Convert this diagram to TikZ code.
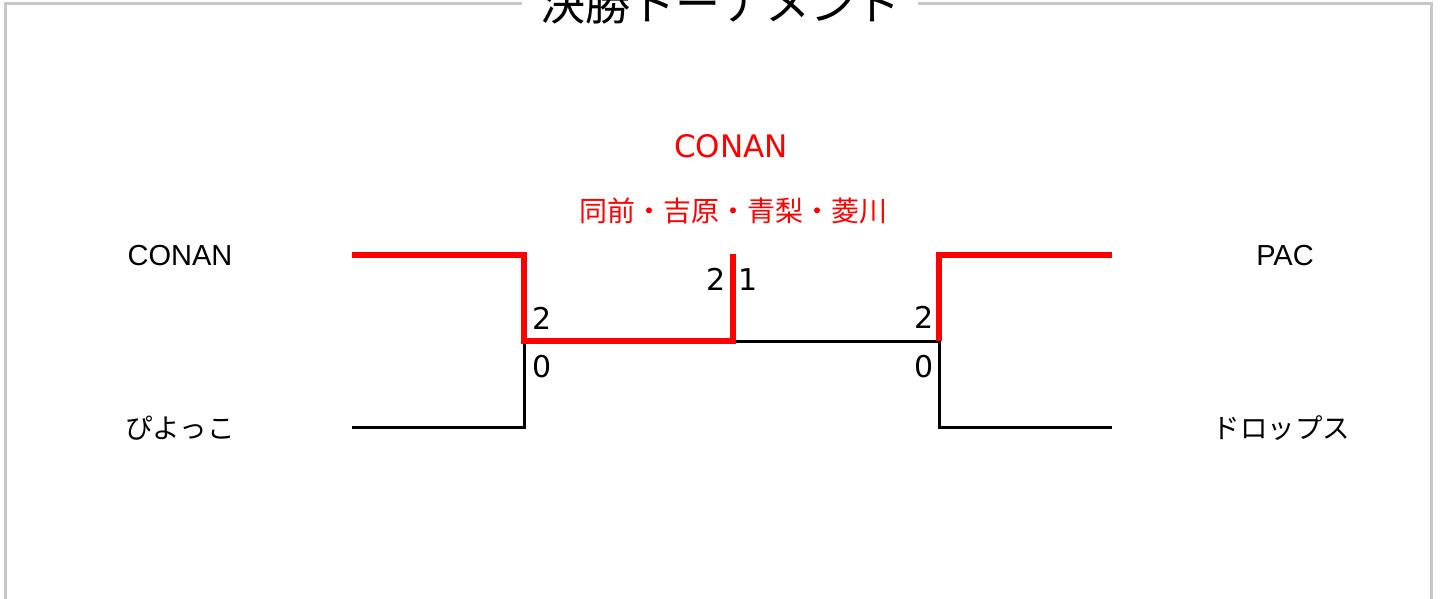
\documentclass[tikz,border=0pt]{standalone}
\usepackage{fontspec}
\setmainfont{DejaVu Sans}
\newfontfamily\jpfont{Noto Sans CJK JP}
\newfontfamily\arialfont{Liberation Sans}
\definecolor{framegray}{RGB}{200,200,200}
\definecolor{winred}{RGB}{255,0,0}
\begin{document}
\begin{tikzpicture}[x=1pt,y=-1pt,
  frameline/.style={draw=framegray, line width=3pt, line join=miter},
  winline/.style={draw=winred, line width=5.5pt, line join=miter},
  loseline/.style={draw=black, line width=3pt, line join=miter},
  team/.style={inner sep=0pt, anchor=base, font=\arialfont\fontsize{29}{33}\selectfont},
  teamjp/.style={inner sep=0pt, anchor=base, font=\jpfont\fontsize{27.5}{32}\selectfont},
  scorel/.style={inner sep=0pt, anchor=base west, font=\fontsize{30}{36}\selectfont},
  scorer/.style={inner sep=0pt, anchor=base east, font=\fontsize{30}{36}\selectfont},
]
\useasboundingbox (0,0) rectangle (1441,599);
\clip (0,0) rectangle (1441,599);

% frame
\coordinate (fBL) at (5,620);
\coordinate (fTL) at (5,4);
\coordinate (gapL) at (522,4);
\coordinate (gapR) at (918,4);
\coordinate (fTR) at (1431,4);
\coordinate (fBR) at (1431,620);
\draw[frameline] (gapL) -- (fTL) -- (fBL);
\draw[frameline] (gapR) -- (fTR) -- (fBR);
\node[inner sep=0pt, anchor=base, font=\jpfont\fontsize{45}{54}\selectfont] (title) at (720,21) {決勝トーナメント};

% bracket coordinates
\coordinate (a1) at (352,255);
\coordinate (a2) at (524,255);
\coordinate (b1) at (352,427);
\coordinate (b2) at (524,427);
\coordinate (m1) at (524,341);
\coordinate (m2) at (733,341);
\coordinate (top) at (733,254);
\coordinate (m3) at (939,341);
\coordinate (c1) at (1112,255);
\coordinate (c2) at (939,255);
\coordinate (d1) at (1112,427);
\coordinate (d2) at (939,427);

% losing lines
\draw[loseline] (b1) -- (b2) -- (m1);
\draw[loseline] (m2) -- (m3);
\draw[loseline] (d1) -- (d2) -- (m3);
% winning lines
\draw[winline] (a1) -- (a2) -- (m1) -- (m2) -- (top);
\draw[winline] (c1) -- (c2) -- (m3);

% team names
\node[team] (t1) at (180,265.5) {CONAN};
\node[teamjp] (t2) at (180,438) {ぴよっこ};
\node[team] (t3) at (1285,265.5) {PAC};
\node[teamjp] (t4) at (1281.5,438) {ドロップス};

% scores
\node[scorel] (s1) at (532,329) {2};
\node[scorel] (s2) at (532,377) {0};
\node[scorer] (s3) at (726,290) {2};
\node[scorel] (s4) at (738.5,290) {1};
\node[scorer] (s5) at (933.5,328) {2};
\node[scorer] (s6) at (933.5,377) {0};

% winner
\node[inner sep=0pt, anchor=base, text=winred, font=\fontsize{31}{36}\selectfont] (w1) at (731,158) {CONAN};
\node[inner sep=0pt, anchor=base, text=winred, font=\jpfont\fontsize{28}{32}\selectfont] (w2) at (733,222) {同前・吉原・青梨・菱川};
\end{tikzpicture}
\end{document}
